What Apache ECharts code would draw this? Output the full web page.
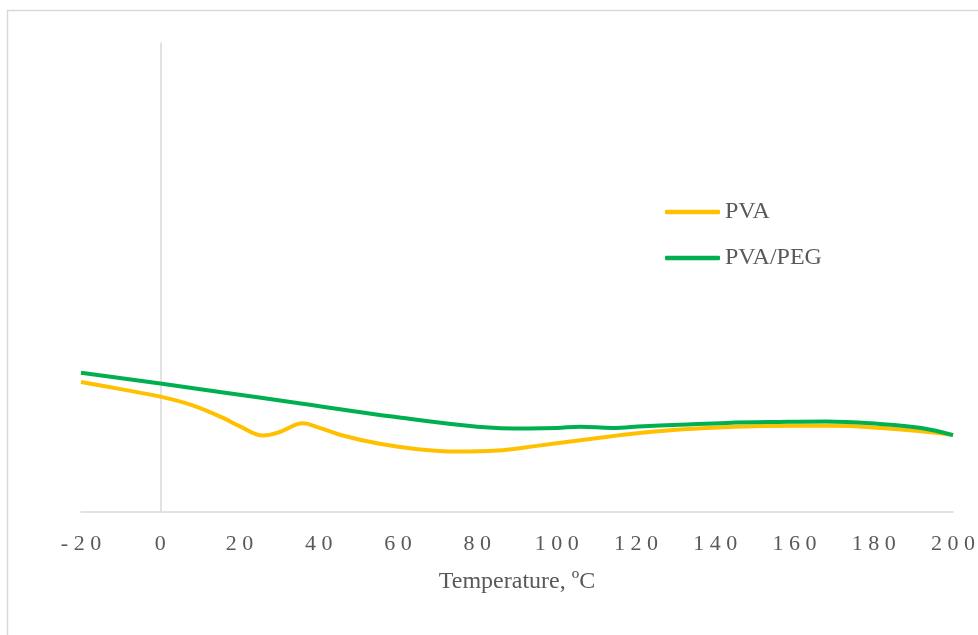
<!DOCTYPE html>
<html>
<head>
<meta charset="utf-8">
<script src="https://cdn.jsdelivr.net/npm/echarts@6/dist/echarts.min.js"></script>
<style>html,body{margin:0;padding:0;background:#fff}#c{width:978px;height:635px}</style>
</head>
<body>
<div id="c"></div>
<script>
// Temperature (x) and relative value (y, arbitrary units – y axis unlabeled)
const pvaTemp = [-20, -10, 0, 8, 16, 20, 26, 30, 36, 40, 46, 55, 65, 75, 85, 95, 106, 118, 131, 145, 160, 170, 182, 192, 200];
const pvaVal  = [27.7, 26.2, 24.6, 22.8, 20.0, 18.3, 16.3, 17.0, 18.9, 18.0, 16.3, 14.6, 13.4, 12.9, 13.1, 14.1, 15.3, 16.6, 17.6, 18.2, 18.4, 18.4, 17.9, 17.2, 16.4];
const pegTemp = [-20, 0, 15, 35, 59, 80, 93, 100, 106, 114, 122, 131, 143, 156, 168, 181, 192, 200];
const pegVal  = [29.7, 27.4, 25.6, 23.2, 20.3, 18.2, 17.8, 17.9, 18.2, 17.9, 18.3, 18.6, 19.0, 19.2, 19.3, 18.8, 17.9, 16.4];
const seriesNames = ['PVA', 'PVA/PEG'];
const xTicks = { min: -20, max: 200, step: 20 };
const xTitle = 'Temperature, ºC';

const FONT = '"Liberation Serif", "DejaVu Serif", serif';
const chart = echarts.init(document.getElementById('c'));
const zip = (a, b) => a.map((v, i) => [v, b[i]]);
chart.setOption({
  animation: false,
  backgroundColor: '#fff',
  graphic: [{
    type: 'rect', shape: { x: 7.5, y: 10.5, width: 990, height: 660 },
    style: { fill: 'none', stroke: '#d9d9d9', lineWidth: 1.5 }, silent: true
  }],
  grid: { left: 81, right: 25, top: 43, bottom: 123 },
  legend: {
    orient: 'vertical', left: 660, top: 195, itemGap: 22,
    icon: 'roundRect', itemWidth: 55, itemHeight: 4.5,
    textStyle: { fontFamily: FONT, fontSize: 24, color: '#595959' },
    data: seriesNames
  },
  xAxis: {
    type: 'value', min: xTicks.min, max: xTicks.max, interval: xTicks.step,
    axisLine: { show: true, onZero: true, lineStyle: { color: '#d9d9d9', width: 1.5 } },
    axisTick: { show: false }, splitLine: { show: false },
    axisLabel: {
      fontFamily: FONT, fontSize: 22, color: '#595959', margin: 21,
      formatter: v => String(v).split('').join(' ')
    },
    name: xTitle, nameLocation: 'middle', nameGap: 58,
    nameTextStyle: { fontFamily: FONT, fontSize: 24, color: '#595959' }
  },
  yAxis: {
    type: 'value', min: 0, max: 100,
    axisLine: { show: true, onZero: true, lineStyle: { color: '#d9d9d9', width: 1.5 } },
    axisTick: { show: false }, axisLabel: { show: false }, splitLine: { show: false }
  },
  series: [
    { name: seriesNames[0], type: 'line', smooth: 0.4, symbol: 'none', data: zip(pvaTemp, pvaVal),
      lineStyle: { color: '#FFC000', width: 4 }, itemStyle: { color: '#FFC000' } },
    { name: seriesNames[1], type: 'line', smooth: 0.4, symbol: 'none', data: zip(pegTemp, pegVal),
      lineStyle: { color: '#00B050', width: 4 }, itemStyle: { color: '#00B050' } }
  ]
});
</script>
</body>
</html>
